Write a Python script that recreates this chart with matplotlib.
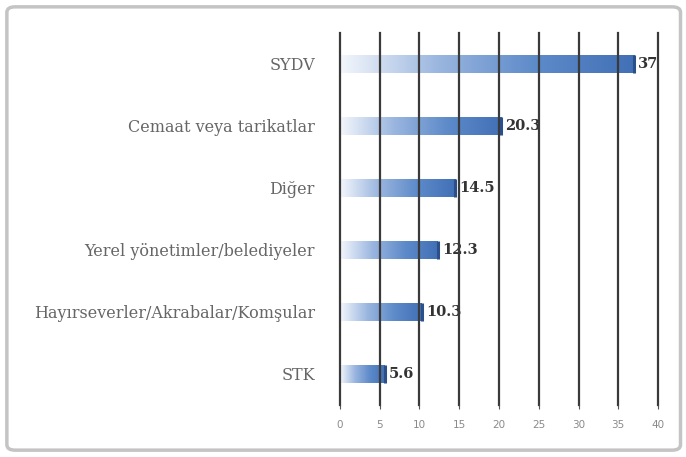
import matplotlib.pyplot as plt
import numpy as np
from matplotlib.patches import FancyBboxPatch
from matplotlib.colors import LinearSegmentedColormap

# veriler
kategoriler = ["SYDV", "Cemaat veya tarikatlar", "Diğer",
               "Yerel yönetimler/belediyeler",
               "Hayırseverler/Akrabalar/Komşular", "STK"]
degerler = [37.0, 20.3, 14.5, 12.3, 10.3, 5.6]
etiketler = ["37", "20.3", "14.5", "12.3", "10.3", "5.6"]
x_ticks = [0, 5, 10, 15, 20, 25, 30, 35, 40]

fig = plt.figure(figsize=(6.86, 4.57), dpi=100)
fig.patch.set_facecolor("white")

# dış çerçeve
cerceve = FancyBboxPatch((0.01, 0.015), 0.982, 0.97, boxstyle="round,pad=0,rounding_size=0.012",
                         transform=fig.transFigure, facecolor="none",
                         edgecolor="#c4c4c4", linewidth=2.5, zorder=0)
fig.patches.append(cerceve)

ax = fig.add_axes([0.4956, 0.1138, 0.4636, 0.814], zorder=2)
ax.set_facecolor("none")

y = np.arange(len(kategoriler))
bars = ax.barh(y, degerler, height=0.29, color="none", edgecolor="none", zorder=2)

# gradyan dolgu
grad = np.linspace(0, 1, 256).reshape(1, -1)
cmap = LinearSegmentedColormap.from_list("g", ["#f4f7fc", "#9ab6df", "#5d8ac9", "#4270b6"])
for b in bars:
    x0, y0 = b.get_x(), b.get_y()
    w, h = b.get_width(), b.get_height()
    im = ax.imshow(grad, cmap=cmap, aspect="auto", extent=[x0, x0 + w, y0 + h, y0],
                   zorder=2, interpolation="bicubic")
    im.set_clip_path(b)
    ax.plot([x0 + w, x0 + w], [y0, y0 + h], color="#2a4f8a", lw=2.2, zorder=3,
            solid_capstyle="butt")

for yi, v, t in zip(y, degerler, etiketler):
    ax.text(v + 0.5, yi, t, va="center", ha="left", fontsize=10.5, fontweight="bold",
            color="#333333", family="DejaVu Serif", zorder=1, clip_on=True)

ax.set_xlim(0, 40)
ax.set_ylim(len(kategoriler) - 0.5, -0.5)
ax.set_yticks(y)
ax.set_yticklabels(kategoriler, family="DejaVu Serif", fontsize=11.5, color="#666666")
ax.set_xticks(x_ticks)
ax.set_xticklabels([str(t) for t in x_ticks], fontsize=7.5, color="#8a8a8a")
ax.tick_params(axis="y", length=0, pad=18)
ax.tick_params(axis="x", length=3, color="#555555", pad=8)
ax.grid(axis="x", color="#3a3a3a", linewidth=1.6, zorder=4)
for gl in ax.get_xgridlines():
    gl.set_clip_on(False)
ax.set_axisbelow(False)
for s in ax.spines.values():
    s.set_visible(False)

fig.savefig("out.png", dpi=100)
